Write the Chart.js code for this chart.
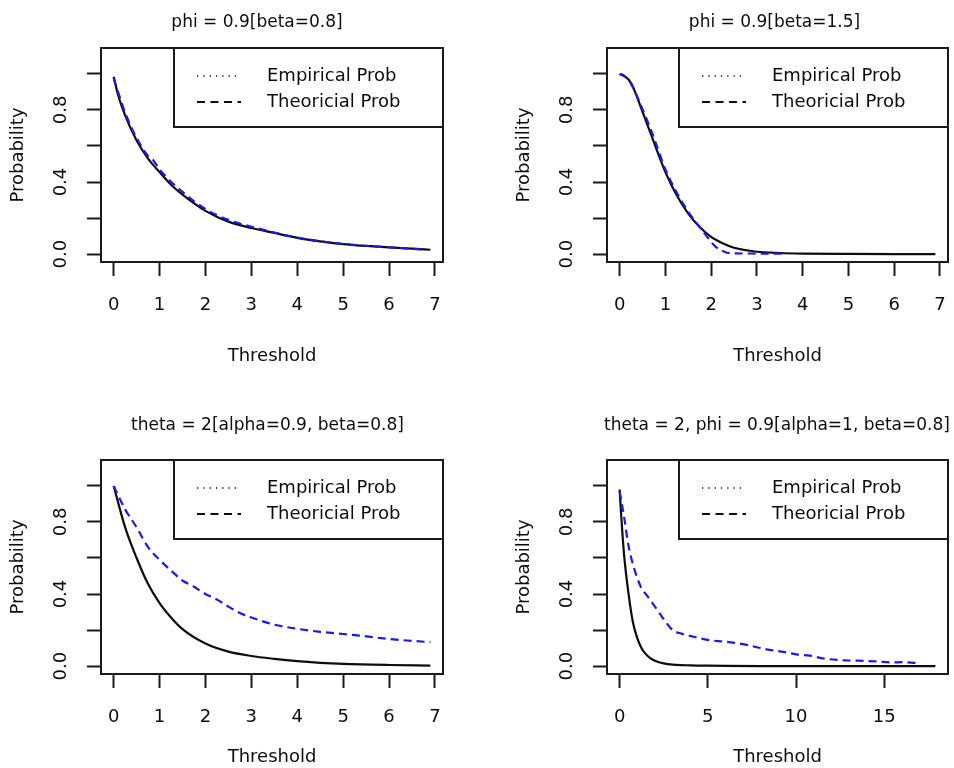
<!DOCTYPE html>
<html><head><meta charset="utf-8">
<script src="https://cdn.jsdelivr.net/npm/chart.js@4.4.1/dist/chart.umd.min.js"></script>
<style>
html,body{margin:0;padding:0;background:#fff;overflow:hidden;}
#wrap{position:relative;width:954px;height:768px;overflow:hidden;background:#fff;}
canvas{position:absolute;}
</style></head><body>
<div id="wrap">
<canvas id="c1"></canvas><canvas id="c2"></canvas><canvas id="c3"></canvas><canvas id="c4"></canvas>
</div>
<script>
// ---- text ----
const panelTitles = [
  'phi = 0.9[beta=0.8]',
  'phi = 0.9[beta=1.5]',
  'theta = 2[alpha=0.9, beta=0.8]',
  'theta = 2, phi = 0.9[alpha=1, beta=0.8]'
];
const xAxisTitle = 'Threshold';
const yAxisTitle = 'Probability';
const legendLabels = ['Empirical Prob', 'Theoricial Prob'];

// ---- ticks ----
const xTicksShort = [0, 1, 2, 3, 4, 5, 6, 7];
const xTicksLong = [0, 5, 10, 15];
const yTicks = [0, 0.2, 0.4, 0.6, 0.8, 1.0];
const yTickLabels = ['0.0', '', '0.4', '', '0.8', ''];

// ---- panel 1: phi = 0.9 [beta=0.8] ----
const p1SolidX = [0, 0.1, 0.25, 0.5, 0.75, 1, 1.25, 1.5, 2, 2.5, 3, 3.5, 4, 4.5, 5, 5.5, 6, 6.5, 6.9];
const p1SolidY = [0.985, 0.88, 0.77, 0.63, 0.53, 0.455, 0.385, 0.33, 0.24, 0.18, 0.145, 0.117, 0.09, 0.07, 0.055, 0.045, 0.037, 0.03, 0.024];
const p1DashX = [0, 0.25, 0.5, 0.75, 0.85, 1, 1.5, 2, 2.5, 3, 3.5, 4, 5, 6, 6.7];
const p1DashY = [0.975, 0.785, 0.645, 0.545, 0.525, 0.47, 0.345, 0.25, 0.19, 0.152, 0.12, 0.092, 0.056, 0.038, 0.026];

// ---- panel 2: phi = 0.9 [beta=1.5] ----
const p2SolidX = [0, 0.1, 0.25, 0.5, 0.75, 1, 1.25, 1.5, 1.75, 2, 2.25, 2.5, 3, 3.5, 4, 5, 6, 6.9];
const p2SolidY = [1.0, 0.99, 0.95, 0.79, 0.62, 0.455, 0.325, 0.225, 0.15, 0.095, 0.06, 0.035, 0.013, 0.006, 0.003, 0.001, 0, 0];
const p2DashX = [0, 0.2, 0.5, 0.75, 1, 1.25, 1.5, 1.75, 1.9, 2.1, 2.3, 2.5, 3, 3.6];
const p2DashY = [1.0, 0.965, 0.805, 0.645, 0.47, 0.34, 0.235, 0.15, 0.1, 0.04, 0.012, 0.004, 0.003, 0.002];

// ---- panel 3: theta = 2 [alpha=0.9, beta=0.8] ----
const p3SolidX = [0, 0.25, 0.5, 0.75, 1, 1.25, 1.5, 2, 2.5, 3, 3.5, 4, 4.5, 5, 6, 6.9];
const p3SolidY = [1.0, 0.77, 0.6, 0.455, 0.35, 0.27, 0.205, 0.125, 0.08, 0.056, 0.04, 0.027, 0.018, 0.012, 0.006, 0.003];
const p3DashX = [0, 0.25, 0.5, 0.75, 1, 1.25, 1.5, 1.75, 2, 2.25, 2.5, 2.75, 3, 3.5, 4, 4.5, 5, 5.5, 6, 6.5, 6.9];
const p3DashY = [1.0, 0.87, 0.77, 0.66, 0.59, 0.53, 0.475, 0.44, 0.4, 0.37, 0.33, 0.295, 0.27, 0.23, 0.207, 0.19, 0.178, 0.165, 0.15, 0.14, 0.133];

// ---- panel 4: theta = 2, phi = 0.9 [alpha=1, beta=0.8] ----
const p4SolidX = [0, 0.1, 0.25, 0.5, 0.75, 1, 1.25, 1.5, 1.75, 2, 2.5, 3, 4, 5, 6, 8, 10, 12, 14, 16, 17.9];
const p4SolidY = [0.98, 0.82, 0.62, 0.405, 0.245, 0.155, 0.098, 0.065, 0.043, 0.03, 0.015, 0.008, 0.004, 0.002, 0.001, 0, 0, 0, 0, 0, 0];
const p4DashX = [0, 0.25, 0.5, 0.8, 1.2, 1.6, 2, 2.5, 3, 3.5, 4.2, 5, 6, 7, 8, 8.5, 9.5, 10, 10.8, 11.5, 12.5, 13.5, 14.5, 15.5, 16, 16.8];
const p4DashY = [0.97, 0.83, 0.67, 0.55, 0.44, 0.385, 0.33, 0.26, 0.2, 0.18, 0.163, 0.145, 0.135, 0.122, 0.1, 0.09, 0.075, 0.065, 0.058, 0.043, 0.033, 0.03, 0.026, 0.02, 0.022, 0.018];

// ---- styling / layout ----
const FONT = "'DejaVu Sans', 'Liberation Sans', sans-serif";
const INK = '#0d0d0d';
const AXIS = '#1a1a1a';
const BLUE = '#1a1aee';

const panels = [
  {id:'c1', left:0,   top:0,   w:514, h:384, rW:71,  xH:122, tTop:12,  tBot:15.6, xTitlePad:17, title:panelTitles[0], xTicks:xTicksShort, xMin:-0.276, xMax:7.176, sx:p1SolidX, sy:p1SolidY, dx:p1DashX, dy:p1DashY},
  {id:'c2', left:506, top:0,   w:537, h:384, rW:95,  xH:122, tTop:12,  tBot:15.6, xTitlePad:17, title:panelTitles[1], xTicks:xTicksShort, xMin:-0.276, xMax:7.176, sx:p2SolidX, sy:p2SolidY, dx:p2DashX, dy:p2DashY},
  {id:'c3', left:0,   top:412, w:535, h:356, rW:92,  xH:94,  tTop:3.8, tBot:23.8, xTitlePad:0,  title:panelTitles[2], xTicks:xTicksShort, xMin:-0.276, xMax:7.176, sx:p3SolidX, sy:p3SolidY, dx:p3DashX, dy:p3DashY},
  {id:'c4', left:506, top:412, w:542, h:356, rW:100, xH:94,  tTop:3.8, tBot:23.8, xTitlePad:0,  title:panelTitles[3], xTicks:xTicksLong,  xMin:-0.716, xMax:18.616, sx:p4SolidX, sy:p4SolidY, dx:p4DashX, dy:p4DashY}
];

const boxLegendPlugin = {
  id: 'boxLegend',
  afterDraw(chart) {
    const {ctx, chartArea: a} = chart;
    ctx.save();
    ctx.setLineDash([]);
    ctx.strokeStyle = AXIS;
    ctx.lineWidth = 2;
    ctx.strokeRect(a.left, a.top, a.right - a.left, a.bottom - a.top);
    // legend (top-right, R style)
    const lw = 269, lh = 79;
    const lx = a.right - lw, ly = a.top;
    ctx.strokeRect(lx, ly, lw, lh);
    const rows = [ly + 28, ly + 54];
    const styles = [{dash:[1.3, 5], width:1.3}, {dash:[8, 5.5], width:1.8}];
    rows.forEach((ry, i) => {
      ctx.beginPath();
      ctx.setLineDash(styles[i].dash);
      ctx.lineWidth = styles[i].width;
      ctx.strokeStyle = INK;
      ctx.moveTo(a.right - 246, ry);
      ctx.lineTo(a.right - 202, ry);
      ctx.stroke();
      ctx.setLineDash([]);
      ctx.fillStyle = INK;
      ctx.font = "18px " + FONT;
      ctx.textAlign = 'left';
      ctx.textBaseline = 'middle';
      ctx.fillText(legendLabels[i], a.right - 176, ry);
    });
    ctx.restore();
  }
};

function pts(xs, ys) { return xs.map((x, i) => ({x: x, y: ys[i]})); }

panels.forEach(p => {
  const cv = document.getElementById(p.id);
  cv.width = p.w; cv.height = p.h;
  cv.style.left = p.left + 'px'; cv.style.top = p.top + 'px';
  cv.style.width = p.w + 'px'; cv.style.height = p.h + 'px';
  const gridOpts = {display:true, drawOnChartArea:false, drawTicks:true, tickLength:14, tickWidth:2, tickColor:AXIS, color:AXIS};
  new Chart(cv, {
    type: 'line',
    data: {
      datasets: [
        {label: legendLabels[1], data: pts(p.dx, p.dy), borderColor: BLUE, borderWidth: 2.2, borderDash: [8, 5], pointRadius: 0, fill: false, cubicInterpolationMode: 'monotone'},
        {label: legendLabels[0], data: pts(p.sx, p.sy), borderColor: INK, borderWidth: 2.2, pointRadius: 0, fill: false, cubicInterpolationMode: 'monotone'}
      ]
    },
    options: {
      responsive: false,
      animation: false,
      devicePixelRatio: 1,
      layout: {padding: 0},
      plugins: {
        legend: {display: false},
        tooltip: {enabled: false},
        title: {display: true, text: p.title, color: INK, font: {family: FONT, size: 17, weight: 'normal'}, padding: {top: p.tTop, bottom: p.tBot}}
      },
      scales: {
        x: {
          type: 'linear', position: 'bottom', min: p.xMin, max: p.xMax,
          afterBuildTicks: s => { s.ticks = p.xTicks.map(v => ({value: v})); },
          afterFit: s => { s.height = p.xH; },
          ticks: {color: INK, font: {family: FONT, size: 18}, padding: 19, maxRotation: 0, autoSkip: false, callback: v => String(v)},
          grid: gridOpts,
          border: {display: true, width: 2, color: AXIS},
          title: {display: true, text: xAxisTitle, color: INK, font: {family: FONT, size: 18}, padding: {top: 0, bottom: p.xTitlePad}}
        },
        y: {
          type: 'linear', position: 'left', min: -0.044, max: 1.144,
          afterBuildTicks: s => { s.ticks = yTicks.map(v => ({value: v})); },
          afterFit: s => { s.width = 101; },
          ticks: {color: INK, font: {family: FONT, size: 18}, padding: 11, minRotation: 90, maxRotation: 90, crossAlign: 'center', autoSkip: false,
                  callback: (v, i) => yTickLabels[i]},
          grid: gridOpts,
          border: {display: true, width: 2, color: AXIS},
          title: {display: true, text: yAxisTitle, color: INK, font: {family: FONT, size: 18}, padding: {top: 8, bottom: 0}}
        },
        yR: {
          type: 'linear', position: 'right', display: true,
          afterFit: s => { s.width = p.rW; },
          ticks: {display: false}, grid: {display: false}, border: {display: false}
        }
      }
    },
    plugins: [boxLegendPlugin]
  });
});
</script>
</body></html>
